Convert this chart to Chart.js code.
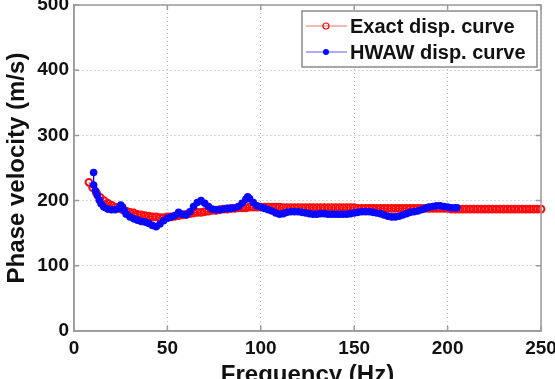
<!DOCTYPE html>
<html>
<head>
<meta charset="utf-8">
<script src="https://cdn.jsdelivr.net/npm/chart.js@4/dist/chart.umd.min.js"></script>
<style>
  body { margin: 0; background: #fff; }
  #wrap { width: 555px; height: 379px; overflow: hidden; }
</style>
</head>
<body>
<div id="wrap"><canvas id="dispChart" width="555" height="379"></canvas></div>
<script>
// Exact dispersion curve (red, open circles)
const freqExact = [
    8, 10, 12, 14, 16, 18, 20, 22, 24, 26,
    28, 30, 32, 34, 36, 38, 40, 42, 44, 46,
    48, 50, 52, 54, 56, 58, 60, 62, 64, 66,
    68, 70, 72, 74, 76, 78, 80, 82, 84, 86,
    88, 90, 92, 94, 96, 98, 100, 102, 104, 106,
    108, 110, 112, 114, 116, 118, 120, 122, 124, 126,
    128, 130, 132, 134, 136, 138, 140, 142, 144, 146,
    148, 150, 152, 154, 156, 158, 160, 162, 164, 166,
    168, 170, 172, 174, 176, 178, 180, 182, 184, 186,
    188, 190, 192, 194, 196, 198, 200, 202, 204, 206,
    208, 210, 212, 214, 216, 218, 220, 222, 224, 226,
    228, 230, 232, 234, 236, 238, 240, 242, 244, 246,
    248, 250
];
const velExact = [
    228, 220, 212, 205, 200, 196, 193, 190, 188, 186,
    184, 182, 181, 179, 178, 177, 176, 175, 175, 174,
    174, 175, 175, 176, 177, 178, 179, 180, 181, 182,
    182, 183, 184, 185, 185, 186, 187, 187, 188, 188,
    189, 189, 189, 190, 190, 190, 190, 190, 190, 190,
    190, 190, 189, 189, 189, 189, 189, 189, 189, 189,
    189, 189, 189, 189, 189, 189, 189, 189, 189, 189,
    189, 189, 188, 188, 188, 188, 188, 188, 188, 188,
    188, 188, 188, 188, 188, 188, 188, 188, 188, 188,
    188, 188, 188, 188, 188, 188, 188, 187, 187, 187,
    187, 187, 187, 187, 187, 187, 187, 187, 187, 187,
    187, 187, 187, 187, 187, 187, 187, 187, 187, 187,
    187, 187
];

// HWAW dispersion curve (blue, filled dots)
const freqHwaw = [
    10.5, 10.5, 11.5, 12.5, 13.5, 14.5, 16, 18, 20, 22,
    24, 25, 26, 27, 28, 30, 32, 34, 36, 38,
    40, 42, 44, 46, 48, 50, 52, 54, 56, 58,
    60, 62, 64, 66, 68, 70, 72, 74, 76, 78,
    80, 82, 84, 86, 88, 90, 92, 93, 94, 96,
    98, 100, 102, 104, 106, 108, 110, 112, 114, 116,
    118, 120, 122, 124, 126, 128, 130, 132, 134, 136,
    138, 140, 142, 144, 146, 148, 150, 152, 154, 156,
    158, 160, 162, 164, 166, 168, 170, 172, 174, 176,
    178, 180, 182, 184, 186, 188, 190, 192, 194, 196,
    198, 200, 202, 204, 205
];
const velHwaw = [
    243, 224, 215, 208, 201, 195, 190, 187, 186, 186,
    188, 193, 190, 184, 179, 175, 172, 170, 168, 167,
    165, 162, 160, 164, 169, 173, 175, 177, 182, 179,
    178, 183, 191, 197, 200, 196, 191, 187, 186, 186,
    187, 188, 188, 189, 191, 196, 202, 206, 203, 197,
    192, 190, 188, 186, 184, 181, 179, 180, 182, 183,
    183, 183, 182, 181, 180, 179, 179, 180, 180, 179,
    179, 179, 179, 179, 179, 180, 181, 182, 183, 183,
    183, 182, 181, 180, 178, 176, 175, 175, 176, 178,
    180, 182, 183, 184, 186, 188, 190, 191, 192, 192,
    191, 190, 189, 189, 189
];

const xTicks = [0, 50, 100, 150, 200, 250];
const yTicks = [0, 100, 200, 300, 400, 500];
const seriesNames = ['Exact disp. curve', 'HWAW disp. curve'];

const FONT = '"Liberation Sans", Arial, Helvetica, sans-serif';
const AXIS_GREY = '#9a9a9a';

// boîte + petites graduations vers l'intérieur + légende à la MATLAB
const matlabBox = {
    id: 'matlabBox',
    afterDatasetsDraw(chart) {
        const { ctx, chartArea: a, scales: { x, y } } = chart;
        ctx.save();
        ctx.strokeStyle = AXIS_GREY;
        ctx.lineWidth = 1.5;
        ctx.strokeRect(a.left, a.top, a.right - a.left, a.bottom - a.top);

        ctx.beginPath();
        xTicks.forEach(v => {
            const px = x.getPixelForValue(v);
            ctx.moveTo(px, a.bottom); ctx.lineTo(px, a.bottom - 5);
            ctx.moveTo(px, a.top); ctx.lineTo(px, a.top + 5);
        });
        yTicks.forEach(v => {
            const py = y.getPixelForValue(v);
            ctx.moveTo(a.left, py); ctx.lineTo(a.left + 5, py);
            ctx.moveTo(a.right, py); ctx.lineTo(a.right - 5, py);
        });
        ctx.stroke();

        // légende
        const lx = 302, ly = 11, lw = 235, lh = 56;
        ctx.fillStyle = '#fff';
        ctx.fillRect(lx, ly, lw, lh);
        ctx.strokeStyle = '#7a7a7a';
        ctx.lineWidth = 1.3;
        ctx.strokeRect(lx, ly, lw, lh);

        const rows = [26, 52];
        chart.data.datasets.forEach((ds, i) => {
            const yy = rows[i];
            ctx.strokeStyle = ds.legendLine;
            ctx.lineWidth = 1;
            ctx.beginPath();
            ctx.moveTo(306, yy); ctx.lineTo(347, yy);
            ctx.stroke();
            ctx.beginPath();
            ctx.arc(326, yy, 3, 0, Math.PI * 2);
            if (ds.pointBackgroundColor !== 'transparent') {
                ctx.fillStyle = ds.pointBackgroundColor;
                ctx.fill();
            } else {
                ctx.strokeStyle = ds.pointBorderColor;
                ctx.lineWidth = 1.2;
                ctx.stroke();
            }
            ctx.fillStyle = '#111';
            ctx.font = 'bold 20px ' + FONT;
            ctx.textAlign = 'left';
            ctx.textBaseline = 'middle';
            ctx.fillText(ds.label, 350, yy + 1);
        });
        ctx.restore();
    }
};

const exactPts = freqExact.map((f, i) => ({ x: f, y: velExact[i] }));
const hwawPts = freqHwaw.map((f, i) => ({ x: f, y: velHwaw[i] }));

const tickFont = { family: FONT, size: 19, weight: 'bold' };

new Chart(document.getElementById('dispChart').getContext('2d'), {
    type: 'line',
    data: {
        datasets: [{
            label: seriesNames[0],
            data: exactPts,
            borderColor: '#ff0000',
            legendLine: '#f07070',
            borderWidth: 1,
            pointRadius: 3.4,
            pointBorderWidth: 2,
            pointBorderColor: '#ff0a0a',
            pointBackgroundColor: 'transparent',
            tension: 0,
            clip: false,
            order: 2
        }, {
            label: seriesNames[1],
            data: hwawPts,
            borderColor: '#0000ff',
            legendLine: '#5a5aff',
            borderWidth: 1,
            pointRadius: 3.8,
            pointBorderWidth: 0,
            pointBorderColor: '#0808ff',
            pointBackgroundColor: '#0808ff',
            tension: 0,
            clip: false,
            order: 1
        }]
    },
    options: {
        responsive: false,
        animation: false,
        devicePixelRatio: 1,
        layout: { autoPadding: false, padding: { top: 5, right: 14, left: 0, bottom: 0 } },
        plugins: { legend: { display: false }, tooltip: { enabled: false } },
        scales: {
            x: {
                type: 'linear',
                min: 0, max: 250,
                afterFit: s => { s.height = 48; s.paddingLeft = 0; s.paddingRight = 0; },
                afterBuildTicks: s => { s.ticks = xTicks.map(v => ({ value: v })); },
                ticks: { font: tickFont, color: '#111', padding: 6, maxRotation: 0 },
                grid: { color: '#b5b5b5', lineWidth: 1, drawTicks: false },
                border: { display: true, color: AXIS_GREY, width: 1.5, dash: [1, 3] },
                title: {
                    display: true, text: 'Frequency (Hz)', color: '#111',
                    font: { family: FONT, size: 24, weight: 'bold', lineHeight: 1 },
                    padding: { top: 0, bottom: -8 }
                }
            },
            y: {
                type: 'linear',
                min: 0, max: 500,
                afterFit: s => { s.width = 74; s.paddingTop = 0; s.paddingBottom = 0; },
                afterBuildTicks: s => { s.ticks = yTicks.map(v => ({ value: v })); },
                ticks: { font: tickFont, color: '#111', padding: 5 },
                grid: { color: '#b5b5b5', lineWidth: 1, drawTicks: false },
                border: { display: true, color: AXIS_GREY, width: 1.5, dash: [1, 3] },
                title: {
                    display: true, text: 'Phase velocity (m/s)', color: '#111',
                    font: { family: FONT, size: 24, weight: 'bold', lineHeight: 1 },
                    padding: { top: 5, bottom: 0 }
                }
            }
        }
    },
    plugins: [matlabBox]
});
</script>
</body>
</html>
